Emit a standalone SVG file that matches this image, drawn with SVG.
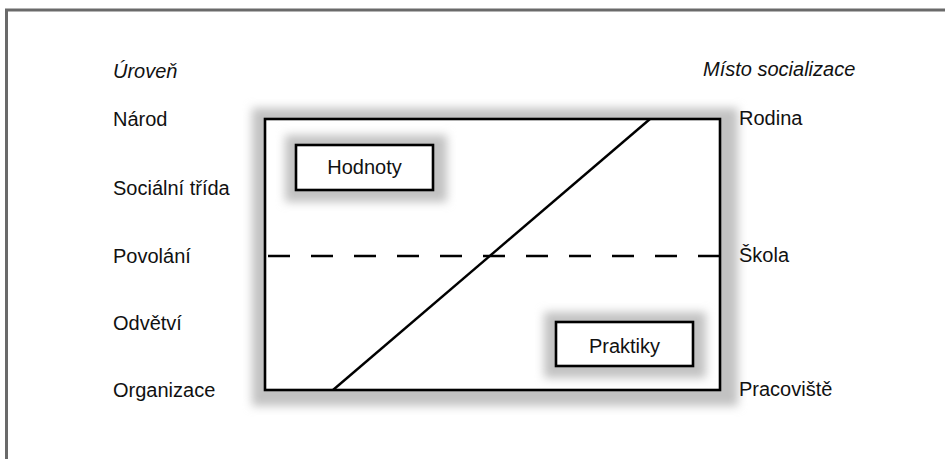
<svg xmlns="http://www.w3.org/2000/svg" width="945" height="459" viewBox="0 0 945 459">
<defs>
<filter id="sh" x="-20%" y="-30%" width="140%" height="160%"><feGaussianBlur stdDeviation="5"/></filter>
<style>
text{font-family:"Liberation Sans",Arial,sans-serif;font-size:20px;fill:#111}
.it{font-style:italic}
.box{fill:#fff;stroke:#000;stroke-width:2.6}
.shadow{fill:#c2c2c2;filter:url(#sh)}
.conn{stroke:#000;stroke-width:2.4;fill:none}
</style>
</defs>
<rect width="945" height="459" fill="#fff"/>
<g id="frame">
<line x1="5" y1="10" x2="945" y2="10" stroke="#6a6a6a" stroke-width="3"/>
<line x1="6.5" y1="9" x2="6.5" y2="459" stroke="#6a6a6a" stroke-width="3"/>
</g>
<g id="main-area">
<rect class="shadow" x="252" y="108" width="486" height="298"/>
<rect class="box" x="265" y="119" width="455" height="271"/>
</g>
<g id="hodnoty">
<rect class="shadow" x="285" y="135" width="162" height="67"/>
<rect class="box" x="296" y="145" width="137" height="45"/>
<text x="364.5" y="174" text-anchor="middle">Hodnoty</text>
</g>
<g id="praktiky">
<rect class="shadow" x="544" y="312" width="162" height="66"/>
<rect class="box" x="556" y="322" width="137" height="44"/>
<text x="624.5" y="353" text-anchor="middle">Praktiky</text>
</g>
<g id="connectors">
<line class="conn" x1="268" y1="256" x2="720" y2="256" stroke-dasharray="22 21"/>
<line class="conn" x1="333" y1="390" x2="650" y2="119"/>
</g>
<g id="left-labels">
<text class="it" x="113" y="78">Úroveň</text>
<text x="113" y="126">Národ</text>
<text x="113" y="195">Sociální třída</text>
<text x="113" y="263">Povolání</text>
<text x="113" y="330">Odvětví</text>
<text x="113" y="397">Organizace</text>
</g>
<g id="right-labels">
<text class="it" x="703" y="76">Místo socializace</text>
<text x="739" y="125">Rodina</text>
<text x="739" y="262">Škola</text>
<text x="739" y="396">Pracoviště</text>
</g>
</svg>
